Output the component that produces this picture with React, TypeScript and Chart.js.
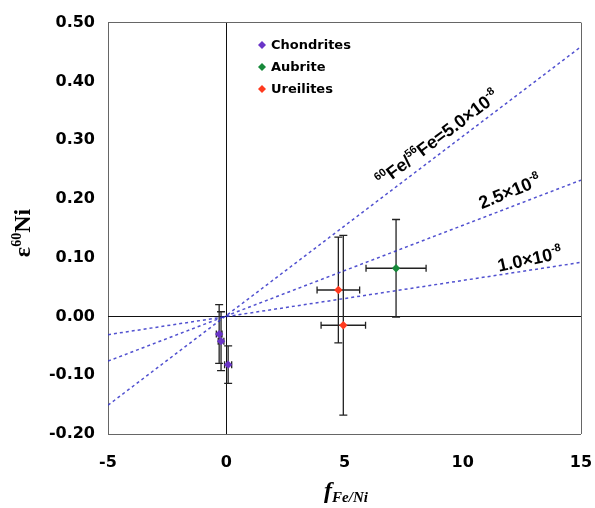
import React, { useEffect, useRef } from 'react';
import { Chart, registerables } from 'chart.js';
Chart.register(...registerables);

// Axis ranges / ticks
const xMin = -5, xMax = 15, xStep = 5;
const yMin = -0.2, yMax = 0.5, yStep = 0.1;

// Data (f Fe/Ni, ε60Ni) with error bars
const chondriteX = [-0.3, -0.22, 0.08];
const chondriteY = [-0.03, -0.042, -0.082];
const chondriteXErr = [0.12, 0.12, 0.15];
const chondriteYErr = [0.05, 0.05, 0.032];

const aubriteX = [7.18];
const aubriteY = [0.082];
const aubriteXErr = [1.27];
const aubriteYErr = [0.083];

const ureiliteX = [4.74, 4.95];
const ureiliteY = [0.045, -0.015];
const ureiliteXErr = [0.9, 0.94];
const ureiliteYErr = [0.09, 0.153];

// Reference isochron lines (endpoints)
const isochronX = [-5, 15];
const iso50Y = [-0.151, 0.459];
const iso25Y = [-0.076, 0.232];
const iso10Y = [-0.031, 0.092];

const seriesNames = ['Chondrites', 'Aubrite', 'Ureilites'];
const seriesColors = ['#6a35c8', '#17893a', '#ff3a1e'];

const toPts = (xs: number[], ys: number[]) => xs.map((x, i) => ({ x, y: ys[i] }));

const errorBarPlugin = {
  id: 'errorBars',
  beforeDatasetsDraw(chart: any) {
    const { ctx, scales } = chart;
    const x = scales.x, y = scales.y;
    ctx.save();
    ctx.strokeStyle = '#222';
    ctx.lineWidth = 1.3;
    chart.data.datasets.forEach((ds: any) => {
      if (!ds.errY) return;
      ds.data.forEach((p: any, i: number) => {
        const px = x.getPixelForValue(p.x), py = y.getPixelForValue(p.y);
        const ey = ds.errY[i], ex = ds.errX[i];
        const y1 = y.getPixelForValue(p.y + ey), y2 = y.getPixelForValue(p.y - ey);
        const x1 = x.getPixelForValue(p.x - ex), x2 = x.getPixelForValue(p.x + ex);
        ctx.beginPath();
        ctx.moveTo(px, y1); ctx.lineTo(px, y2);
        ctx.moveTo(px - 4, y1); ctx.lineTo(px + 4, y1);
        ctx.moveTo(px - 4, y2); ctx.lineTo(px + 4, y2);
        ctx.moveTo(x1, py); ctx.lineTo(x2, py);
        ctx.moveTo(x1, py - 3.5); ctx.lineTo(x1, py + 3.5);
        ctx.moveTo(x2, py - 3.5); ctx.lineTo(x2, py + 3.5);
        ctx.stroke();
      });
    });
    ctx.restore();
  },
};

type Part = { t: string; font: string; dy?: number };

function drawRich(ctx: CanvasRenderingContext2D, parts: Part[], cx: number, cy: number, angleDeg: number, color = '#000') {
  ctx.save();
  ctx.translate(cx, cy);
  ctx.rotate((angleDeg * Math.PI) / 180);
  ctx.fillStyle = color;
  ctx.textBaseline = 'alphabetic';
  ctx.textAlign = 'left';
  let total = 0;
  const widths = parts.map((p) => {
    ctx.font = p.font;
    const w = ctx.measureText(p.t).width;
    total += w;
    return w;
  });
  let xx = -total / 2;
  parts.forEach((p, i) => {
    ctx.font = p.font;
    ctx.fillText(p.t, xx, p.dy || 0);
    xx += widths[i];
  });
  ctx.restore();
}

const textPlugin = {
  id: 'texts',
  afterDraw(chart: any) {
    const ctx: CanvasRenderingContext2D = chart.ctx;
    // Legend
    const lf = 'bold 13px "DejaVu Sans", Verdana, sans-serif';
    const rows = [45, 67, 89];
    seriesNames.forEach((name, i) => {
      const mx = 262, my = rows[i];
      ctx.save();
      ctx.fillStyle = seriesColors[i];
      ctx.beginPath();
      ctx.moveTo(mx, my - 4); ctx.lineTo(mx + 4, my); ctx.lineTo(mx, my + 4); ctx.lineTo(mx - 4, my);
      ctx.closePath(); ctx.fill();
      ctx.fillStyle = '#000';
      ctx.font = lf;
      ctx.textBaseline = 'middle';
      ctx.textAlign = 'left';
      ctx.fillText(name, 271, my + 1);
      ctx.restore();
    });

    // Line labels
    const big = 'bold 18px "Liberation Sans", Arial, sans-serif';
    const sup = 'bold 11px "Liberation Sans", Arial, sans-serif';
    drawRich(ctx, [
      { t: '60', font: sup, dy: -8 },
      { t: 'Fe/', font: big },
      { t: '56', font: sup, dy: -8 },
      { t: 'Fe=5.0\u00d710', font: big },
      { t: '-8', font: sup, dy: -8 },
    ], 441, 143, -37);
    drawRich(ctx, [
      { t: '2.5\u00d710', font: big },
      { t: '-8', font: sup, dy: -8 },
    ], 512, 197, -22);
    drawRich(ctx, [
      { t: '1.0\u00d710', font: big },
      { t: '-8', font: sup, dy: -8 },
    ], 531, 265, -12);

    // Y title
    drawRich(ctx, [
      { t: '\u03b5', font: 'bold 24px "Liberation Serif", "Times New Roman", serif' },
      { t: '60', font: 'bold 14px "Liberation Serif", "Times New Roman", serif', dy: -9 },
      { t: 'Ni', font: 'bold 24px "Liberation Serif", "Times New Roman", serif' },
    ], 30, 233, -90);

    // X title
    drawRich(ctx, [
      { t: 'f', font: 'italic bold 24px "Liberation Serif", "Times New Roman", serif' },
      { t: 'Fe/Ni', font: 'italic bold 15px "Liberation Serif", "Times New Roman", serif', dy: 4 },
    ], 346, 498, 0);
  },
};

export default function App() {
  const ref = useRef<HTMLCanvasElement>(null);
  useEffect(() => {
    if (!ref.current) return;
    const lineDs = (ys: number[]) => ({
      type: 'scatter' as const,
      data: toPts(isochronX, ys),
      showLine: true,
      borderColor: 'rgba(50,50,200,0.85)',
      borderWidth: 1.5,
      borderDash: [3, 3],
      pointRadius: 0,
      fill: false,
    });
    const ptDs = (xs: number[], ys: number[], ex: number[], ey: number[], i: number) => ({
      type: 'scatter' as const,
      label: seriesNames[i],
      data: toPts(xs, ys),
      errX: ex,
      errY: ey,
      pointStyle: 'rectRot',
      pointRadius: 4.2,
      backgroundColor: seriesColors[i],
      borderColor: seriesColors[i],
      borderWidth: 0,
    });
    const isEdgeOrZero = (v: number, edges: number[], dark: string, light: string) => {
      if (Math.abs(v) < 1e-9) return dark;
      if (edges.some((e) => Math.abs(v - e) < 1e-9)) return light;
      return 'rgba(0,0,0,0)';
    };
    const chart = new Chart(ref.current, {
      type: 'scatter',
      data: {
        datasets: [
          lineDs(iso50Y),
          lineDs(iso25Y),
          lineDs(iso10Y),
          ptDs(chondriteX, chondriteY, chondriteXErr, chondriteYErr, 0),
          ptDs(aubriteX, aubriteY, aubriteXErr, aubriteYErr, 1),
          ptDs(ureiliteX, ureiliteY, ureiliteXErr, ureiliteYErr, 2),
        ] as any,
      },
      options: {
        animation: false,
        responsive: true,
        maintainAspectRatio: false,
        layout: { padding: { left: 0, right: 0, top: 16, bottom: 0 } },
        plugins: { legend: { display: false }, tooltip: { enabled: false } },
        scales: {
          x: {
            type: 'linear',
            min: xMin,
            max: xMax,
            afterFit: (s: any) => { s.height = 74; s.paddingRight = 14; },
            ticks: {
              stepSize: xStep,
              padding: 19,
              color: '#000',
              font: { family: '"DejaVu Sans", Verdana, sans-serif', size: 16, weight: 'bold' },
            },
            border: { display: false },
            grid: {
              drawTicks: false,
              lineWidth: 1,
              color: (c: any) => isEdgeOrZero(c.tick.value, [xMin, xMax], '#111', '#666'),
            },
          },
          y: {
            type: 'linear',
            min: yMin,
            max: yMax,
            afterFit: (s: any) => { s.width = 108; },
            ticks: {
              stepSize: yStep,
              padding: 13,
              color: '#000',
              font: { family: '"DejaVu Sans", Verdana, sans-serif', size: 16, weight: 'bold' },
              callback: (v: any) => (Math.abs(Number(v)) < 1e-9 ? 0 : Number(v)).toFixed(2),
            },
            border: { display: false },
            grid: {
              drawTicks: false,
              lineWidth: 1,
              color: (c: any) => isEdgeOrZero(c.tick.value, [yMin, yMax], '#111', '#666'),
            },
          },
        },
      } as any,
      plugins: [errorBarPlugin, textPlugin],
    });
    return () => chart.destroy();
  }, []);
  return (
    <div style={{ position: 'absolute', left: 0, top: 0, width: 595, height: 508, background: '#fff' }}>
      <canvas ref={ref} />
    </div>
  );
}
